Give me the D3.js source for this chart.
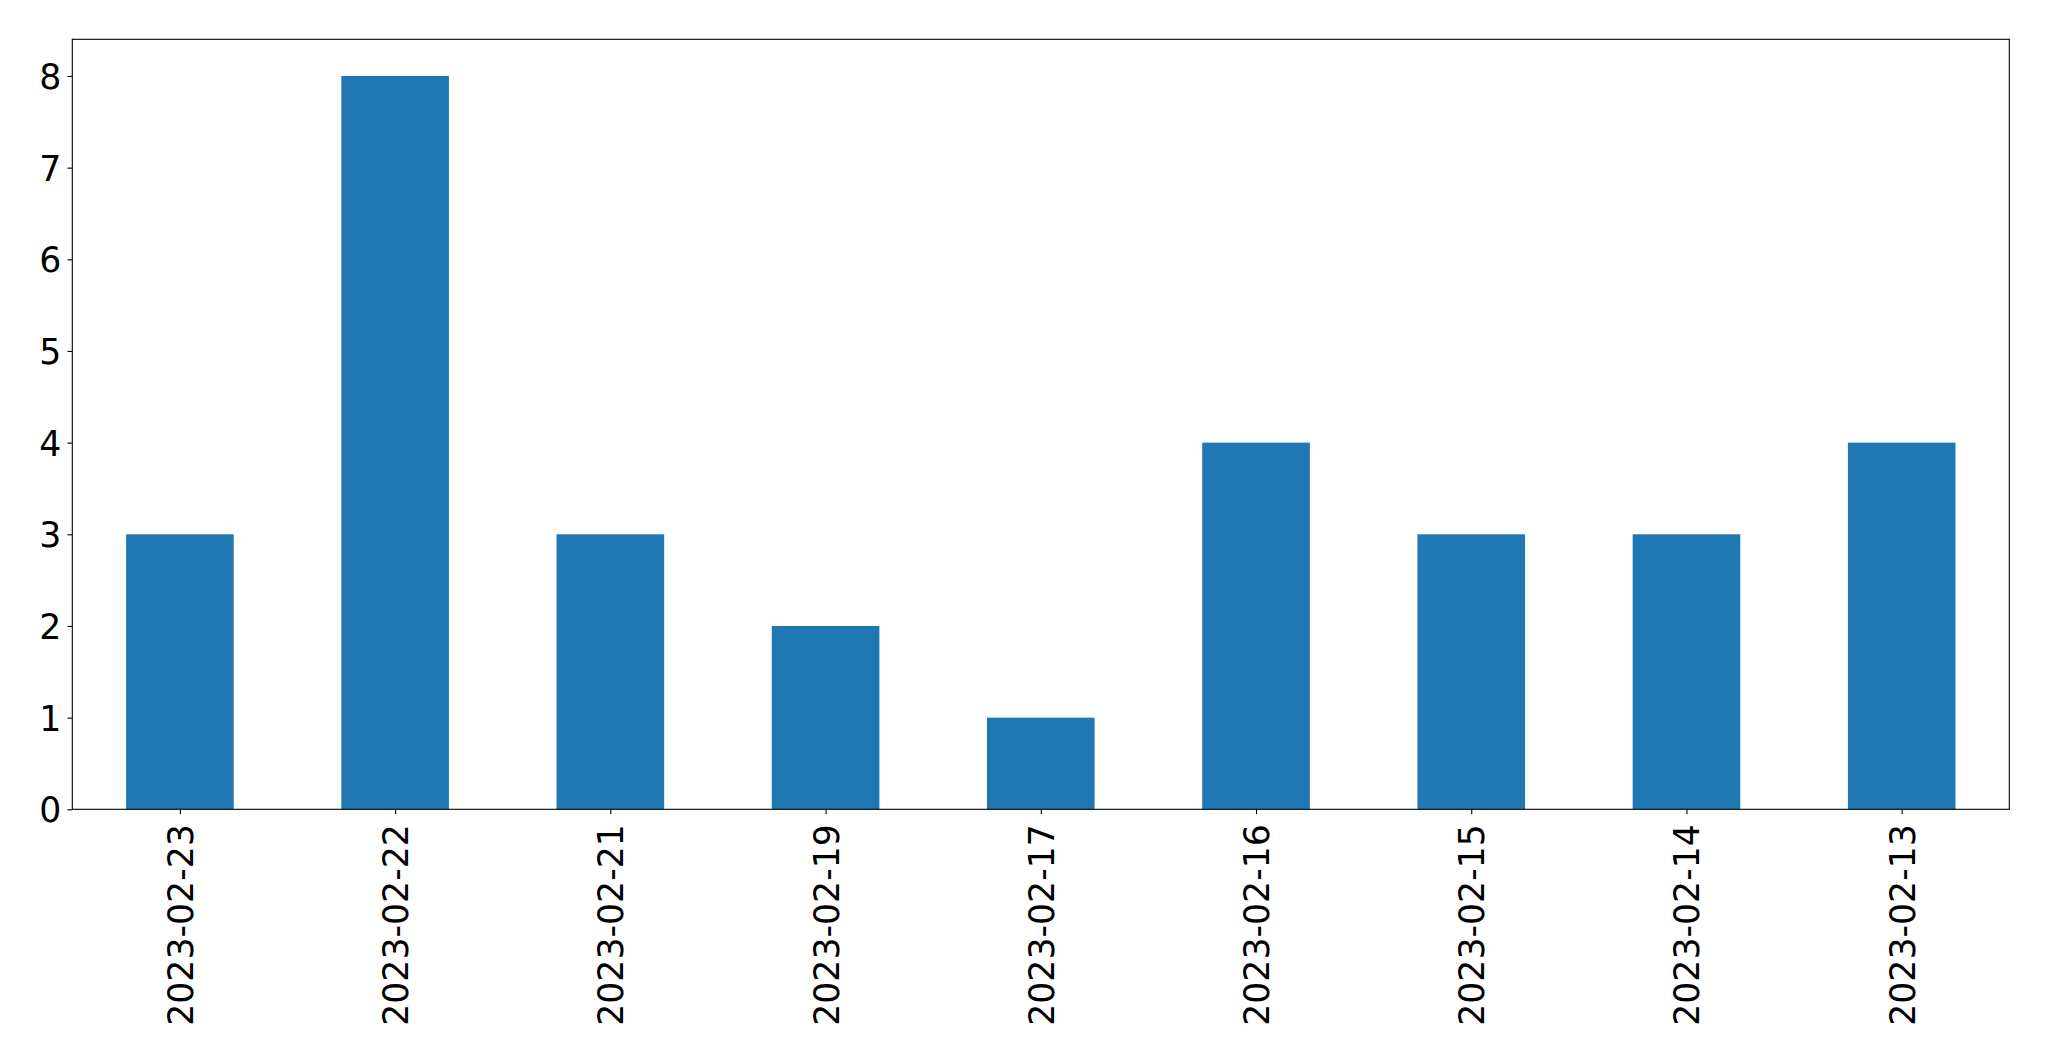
<!DOCTYPE html>
<html>
<head>
<meta charset="utf-8">
<script src="https://cdn.jsdelivr.net/npm/d3@7"></script>
<style>
html,body{margin:0;padding:0;background:#fff;}
svg{display:block;}
text{font-family:"DejaVu Sans",sans-serif;fill:#000;}
</style>
</head>
<body>
<svg id="chart" width="2049" height="1061"></svg>
<script>
const categories = ["2023-02-23","2023-02-22","2023-02-21","2023-02-19","2023-02-17","2023-02-16","2023-02-15","2023-02-14","2023-02-13"];
const values = [3, 8, 3, 2, 1, 4, 3, 3, 4];
const yTicks = [0, 1, 2, 3, 4, 5, 6, 7, 8];

(function () {
const mLeft = 72.3, mRight = 2009.3, mTop = 39.3, mBottom = 809.3;
const fontSize = 34.7, tickLen = 4.9;

const svg = d3.select("#chart");

const x = d3.scaleLinear().domain([-0.5, categories.length - 0.5]).range([mLeft, mRight]);
const y = d3.scaleLinear().domain([0, 8.4]).range([mBottom, mTop]);
const barW = 0.5;

svg.append("g").selectAll("rect").data(values).join("rect")
  .attr("x", (d, i) => x(i - barW / 2))
  .attr("width", (d, i) => x(i + barW / 2) - x(i - barW / 2))
  .attr("y", d => y(d))
  .attr("height", d => y(0) - y(d))
  .attr("fill", "#1f77b4");

// y axis
const yAxis = d3.axisLeft(y).tickValues(yTicks).tickFormat(d3.format("d")).tickSize(tickLen).tickPadding(6);
const gy = svg.append("g").attr("transform", `translate(${mLeft},0)`).call(yAxis);
gy.select(".domain").remove();
gy.selectAll(".tick line").attr("stroke", "#000").attr("stroke-width", 1.1);
gy.selectAll(".tick text").attr("font-size", fontSize).attr("font-family", "DejaVu Sans").attr("dy", "0.36em");

// x axis
const xAxis = d3.axisBottom(x).tickValues(d3.range(categories.length)).tickFormat(i => categories[i]).tickSize(tickLen).tickPadding(6);
const gx = svg.append("g").attr("transform", `translate(0,${mBottom})`).call(xAxis);
gx.select(".domain").remove();
gx.selectAll(".tick line").attr("stroke", "#000").attr("stroke-width", 1.1);
gx.selectAll(".tick text")
  .attr("font-size", fontSize).attr("font-family", "DejaVu Sans")
  .attr("text-anchor", "end")
  .attr("transform", "rotate(-90)")
  .attr("x", -(tickLen + 10))
  .attr("y", 0)
  .attr("dy", "0.36em");

// frame
svg.append("rect")
  .attr("x", mLeft).attr("y", mTop)
  .attr("width", mRight - mLeft).attr("height", mBottom - mTop)
  .attr("fill", "none").attr("stroke", "#000").attr("stroke-width", 1.1);
})();
</script>
</body>
</html>
